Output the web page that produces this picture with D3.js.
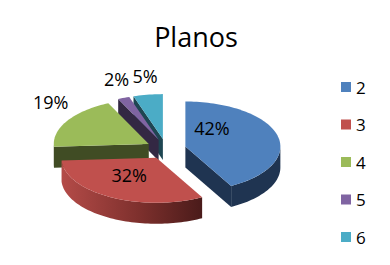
<!DOCTYPE html>
<html>
<head>
<meta charset="utf-8">
<script src="https://cdn.jsdelivr.net/npm/d3@7"></script>
<style>
  html, body { margin: 0; padding: 0; background: #fff; }
  svg { display: block; font-family: "Open Sans", "DejaVu Sans", sans-serif; }
</style>
</head>
<body>
<svg id="chart" width="390" height="265"></svg>
<script>
// chart data
const categories = ["2", "3", "4", "5", "6"];
const values = [42, 32, 19, 2, 5];
const labels = ["42%", "32%", "19%", "2%", "5%"];
const topColors = ["#4f81bd", "#c0504d", "#9bbb59", "#8064a2", "#4bacc6"];
const sideColors = ["#1f3451", "#8a3633", "#404c24", "#332843", "#1e4652"];

const svg = d3.select("#chart");

// pie geometry (tilted ellipse)
const cx = 166, cy = 149, rx = 95, ry = 45, depth = 21;
const ex = 20, ey = 10; // explosion offsets

const arcs = d3.pie().sort(null).value(d => d)(values);

function pt(c, a, r) {
    return [c[0] + rx * r * Math.sin(a), c[1] - ry * r * Math.cos(a)];
}
function down(p) { return [p[0], p[1] + depth]; }
function arcPts(c, a0, a1) {
    const n = Math.max(2, Math.ceil((a1 - a0) / 0.03));
    return d3.range(n + 1).map(i => pt(c, a0 + (a1 - a0) * i / n, 1));
}
const line = d3.line().curve(d3.curveLinearClosed);

// gradient for the red front side
const defs = svg.append("defs");
const grad = defs.append("linearGradient").attr("id", "redSide")
    .attr("x1", "0").attr("x2", "1").attr("y1", "0").attr("y2", "0");
grad.append("stop").attr("offset", "0%").attr("stop-color", "#b44b48");
grad.append("stop").attr("offset", "55%").attr("stop-color", "#7e302d");
grad.append("stop").attr("offset", "100%").attr("stop-color", "#4a1b1a");

// slice centres after exploding
const slices = arcs.map((d, i) => {
    const mid = (d.startAngle + d.endAngle) / 2;
    const c = [cx + ex * Math.sin(mid), cy - ey * Math.cos(mid)];
    return { d, i, mid, c };
});

// paint back slices first
const order = slices.slice().sort((a, b) => a.c[1] - b.c[1]);
const g = svg.append("g");

order.forEach(s => {
    const { d, i, c } = s;
    const a0 = d.startAngle, a1 = d.endAngle;
    const side = i === 1 ? "url(#redSide)" : sideColors[i];

    // radial face at start edge
    if (Math.sin(a0) < -0.01) {
        const p = pt(c, a0, 1);
        g.append("path").attr("d", line([c, p, down(p), down(c)])).attr("fill", sideColors[i]);
    }
    // radial face at end edge
    if (Math.sin(a1) > 0.01) {
        const p = pt(c, a1, 1);
        g.append("path").attr("d", line([c, p, down(p), down(c)])).attr("fill", sideColors[i]);
    }
    // outer curved side (front half only)
    const s0 = Math.max(a0, Math.PI / 2), s1 = Math.min(a1, 3 * Math.PI / 2);
    if (s1 > s0) {
        const top = arcPts(c, s0, s1);
        const bottom = top.map(down).reverse();
        g.append("path").attr("d", line(top.concat(bottom))).attr("fill", side);
    }
    // top face
    g.append("path")
        .attr("d", line([c].concat(arcPts(c, a0, a1))))
        .attr("fill", topColors[i]);
});

// data labels: big slices inside, small ones just outside the rim
const labelNudge = [[-24, -12], [-2, -4], [0, 0], [0, 0], [0, 0]];
slices.forEach(s => {
    const inside = values[s.i] >= 30;
    let p;
    if (inside) {
        p = pt(s.c, s.mid, 0.55);
    } else {
        const e = pt(s.c, s.mid, 1);
        p = [e[0] + 19 * Math.sin(s.mid), e[1] - 19];
    }
    svg.append("text")
        .attr("x", p[0] + labelNudge[s.i][0])
        .attr("y", p[1] + labelNudge[s.i][1])
        .attr("text-anchor", "middle")
        .attr("dominant-baseline", "central")
        .attr("font-size", 18)
        .attr("fill", "#000")
        .text(labels[s.i]);
});

// title
svg.append("text")
    .attr("x", 196).attr("y", 47)
    .attr("text-anchor", "middle")
    .attr("font-size", 27)
    .attr("fill", "#000")
    .text("Planos");

// legend
const ly = d3.scalePoint().domain(categories).range([87, 237]);
const legend = svg.append("g");
legend.selectAll("rect")
    .data(categories)
    .join("rect")
    .attr("x", 341)
    .attr("y", d => ly(d) - 5)
    .attr("width", 10).attr("height", 10)
    .attr("fill", (d, i) => topColors[i]);
legend.selectAll("text")
    .data(categories)
    .join("text")
    .attr("x", 356)
    .attr("y", d => ly(d))
    .attr("dominant-baseline", "central")
    .attr("font-size", 17)
    .attr("fill", "#000")
    .text(d => d);
</script>
</body>
</html>
